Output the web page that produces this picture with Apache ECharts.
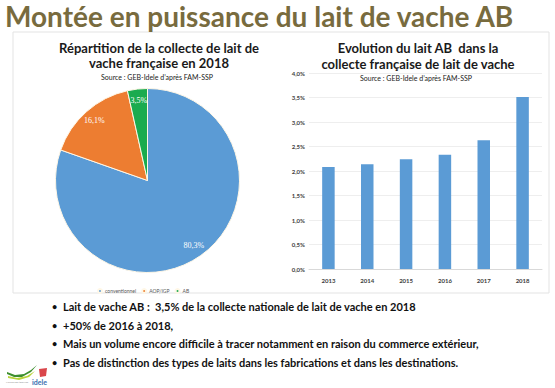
<!DOCTYPE html>
<html><head><meta charset="utf-8">
<script src="https://cdn.jsdelivr.net/npm/echarts@6/dist/echarts.min.js"></script>
<style>html,body{margin:0;padding:0;background:#fff}#c{width:555px;height:388px}</style>
</head><body><div id="c"></div>
<script>
// ---- data ----
const mainTitle = 'Montée en puissance du lait de vache AB';
const pieTitle = ['Répartition de la collecte de lait de', 'vache française en 2018'];
const barTitle = ['Evolution du lait AB  dans la', 'collecte française de lait de vache'];
const sourceText = 'Source : GEB-Idele d\u2019après FAM-SSP';
const pieCategories = ['conventionnel', 'AOP/IGP', 'AB'];
const pieValues = [80.3, 16.1, 3.5];
const years = ['2013', '2014', '2015', '2016', '2017', '2018'];
const abShare = [2.08, 2.14, 2.24, 2.33, 2.63, 3.51];
const bullets = [
  'Lait de vache AB :  3,5% de la collecte nationale de lait de vache en 2018',
  '+50% de 2016 à 2018,',
  'Mais un volume encore difficile à tracer notamment en raison du commerce extérieur,',
  'Pas de distinction des types de laits dans les fabrications et dans les destinations.'
];

const pieColors = ['#5b9bd5', '#ed7d31', '#1aab4f'];
const fmt = v => v.toFixed(1).replace('.', ',') + '%';
const F = 'Lato, "Open Sans", sans-serif';

const chart = echarts.init(document.getElementById('c'), null, {renderer: 'svg'});

const g = [];
// panel border
g.push({type: 'rect', shape: {x: 13, y: 32, width: 536, height: 261}, style: {fill: 'none', stroke: '#e3e3e3', lineWidth: 1}, z: 0});
// main title
g.push({type: 'text', x: 5, y: 16, style: {text: mainTitle, font: 'bold 28px ' + F, fill: '#786b3e', textVerticalAlign: 'middle'}});
// pie titles
g.push({type: 'text', x: 159, y: 48, style: {text: pieTitle[0], font: 'bold 13px ' + F, fill: '#1a1a1a', textAlign: 'center', textVerticalAlign: 'middle'}});
g.push({type: 'text', x: 159, y: 63, style: {text: pieTitle[1], font: 'bold 13px ' + F, fill: '#1a1a1a', textAlign: 'center', textVerticalAlign: 'middle'}});
g.push({type: 'text', x: 157, y: 77, style: {text: sourceText, font: '7px ' + F, fill: '#1a1a1a', textAlign: 'center', textVerticalAlign: 'middle'}});
// bar titles
g.push({type: 'text', x: 418, y: 48, style: {text: barTitle[0], font: 'bold 13px ' + F, fill: '#1a1a1a', textAlign: 'center', textVerticalAlign: 'middle'}});
g.push({type: 'text', x: 418, y: 64, style: {text: barTitle[1], font: 'bold 13px ' + F, fill: '#1a1a1a', textAlign: 'center', textVerticalAlign: 'middle'}});
g.push({type: 'text', x: 416, y: 78, style: {text: sourceText, font: '7px ' + F, fill: '#1a1a1a', textAlign: 'center', textVerticalAlign: 'middle'}});
// bullets
const by = [306, 325, 343, 362];
bullets.forEach((t, i) => {
  g.push({type: 'text', x: 52, y: by[i], style: {text: '\u2022', font: 'bold 9px ' + F, fill: '#111', textVerticalAlign: 'middle'}});
  g.push({type: 'text', x: 63, y: by[i], style: {text: t, font: 'bold 11px ' + F, fill: '#111', textVerticalAlign: 'middle'}});
});
// logo
g.push({type: 'polygon', shape: {points: [[7,372],[15,375],[24,374],[31,370],[37,365],[31,372],[22,377],[14,377],[7,374]]}, style: {fill: '#3d8f2e'}});
g.push({type: 'polygon', shape: {points: [[8,376],[17,378],[27,376],[35,371],[29,377],[19,380],[8,378]]}, style: {fill: '#b8d33a'}});
g.push({type: 'polygon', shape: {points: [[39,369],[47,368],[46,376],[40,377]]}, style: {fill: '#d9464b'}});
g.push({type: 'text', x: 6, y: 382, style: {text: 'INSTITUT DE L\u2019ÉLEVAGE', font: '2px ' + F, fill: '#888', textVerticalAlign: 'middle'}});
g.push({type: 'text', x: 32, y: 382, style: {text: 'idele', font: 'bold 7px ' + F, fill: '#3a6fb0', textVerticalAlign: 'middle'}});

const pieData = pieCategories.map((n, i) => ({name: n, value: pieValues[i], itemStyle: {color: pieColors[i]}}));

chart.setOption({
  backgroundColor: '#fff',
  animation: false,
  graphic: g,
  legend: {
    data: pieCategories, left: 92, top: 283, icon: 'circle', itemWidth: 4, itemHeight: 4, itemGap: 5,
    textStyle: {fontSize: 5, color: '#595959', fontFamily: F, padding: [0, 0, 0, -2]}
  },
  grid: {left: 309, right: 13, top: 73, bottom: 119, containLabel: false},
  xAxis: {
    type: 'category', data: years,
    axisLine: {lineStyle: {color: '#d9d9d9'}}, axisTick: {show: false},
    axisLabel: {fontSize: 6, color: '#404040', fontWeight: 'bold', margin: 8, fontFamily: F}
  },
  yAxis: {
    type: 'value', min: 0, max: 4, interval: 0.5,
    axisLine: {show: false}, axisTick: {show: false},
    splitLine: {lineStyle: {color: '#eeeeee'}},
    axisLabel: {fontSize: 6, color: '#404040', fontWeight: 'bold', margin: 4, fontFamily: F, formatter: fmt}
  },
  series: [
    {type: 'bar', data: abShare, barWidth: 12.5, itemStyle: {color: '#5b9bd5'}, silent: true},
    {type: 'pie', center: [147.5, 180.5], radius: [0, 92], startAngle: 90, clockwise: true,
     data: pieData, label: {show: false}, labelLine: {show: false},
     itemStyle: {borderColor: '#fff7e6', borderWidth: 1}, silent: true},
    {type: 'pie', center: [147.5, 180.5], radius: [62, 92], startAngle: 90, clockwise: true,
     data: pieCategories.map((n, i) => ({name: n, value: pieValues[i]})),
     itemStyle: {color: 'rgba(0,0,0,0)', borderWidth: 0}, silent: true, legendHoverLink: false,
     label: {show: true, position: 'inside', color: '#fff', fontSize: 8, fontFamily: 'Liberation Serif, serif',
       formatter: p => p.value.toFixed(1).replace('.', ',') + '%'},
     labelLine: {show: false}}
  ]
});
</script></body></html>
